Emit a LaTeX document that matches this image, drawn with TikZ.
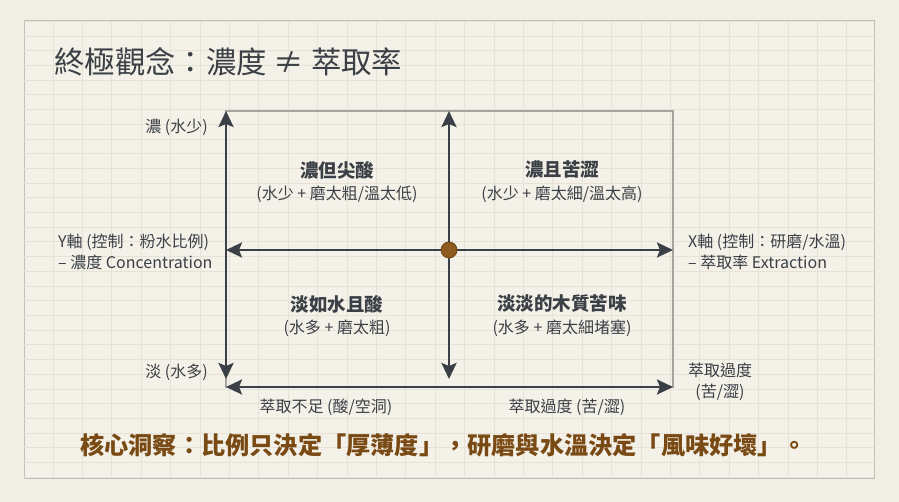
\documentclass[tikz,border=0pt]{standalone}
\usepackage{fontspec}
\setmainfont{Noto Sans CJK TC}
\usetikzlibrary{arrows.meta}
\definecolor{ink}{HTML}{3B4046}
\definecolor{paper}{HTML}{F1EEE4}
\definecolor{panel}{HTML}{F4F1E8}
\definecolor{gridline}{HTML}{E6E2D8}
\definecolor{frame}{HTML}{A5A49E}
\definecolor{coffee}{HTML}{7A4A14}
\definecolor{bean}{HTML}{8E5A1F}
\tikzset{
  axis/.style={line width=2.6pt, draw=ink, {Stealth[length=16pt,width=15pt,inset=3pt]}-{Stealth[length=16pt,width=15pt,inset=3pt]}},
  head/.style={font=\fontsize{18.5}{20}\selectfont\bfseries, text=ink},
  sub/.style={font=\fontsize{16}{18}\selectfont, text=ink},
  side/.style={font=\fontsize{16}{20.5}\selectfont, text=ink, inner sep=0pt}
}
\begin{document}
\begin{tikzpicture}[x=1pt,y=-1pt]
\useasboundingbox (0,0) rectangle (899,502);
\fill[paper] (0,0) rectangle (899,502);
\filldraw[fill=panel, draw=frame!70, line width=1pt] (24,21) rectangle (874,478);
\begin{scope}
\clip (24,21) rectangle (874,478);
\foreach \i in {0,...,28}
  \draw[gridline, line width=0.7pt] ({23.6+29.4*\i},21) -- ++(0,457);
\foreach \j in {0,...,31}
  \draw[gridline, line width=0.6pt] (24,{21.3+14.7*\j}) -- ++(850,0);
\end{scope}

\node[anchor=west, inner sep=0pt, text=ink, font=\fontsize{30.4}{34}\selectfont] (title) at (54,62) {終極觀念：濃度 ≠ 萃取率};

\draw[frame, line width=1.2pt] (226,111) rectangle (673,387);

\coordinate (ytop) at (226,111);
\coordinate (ybot) at (226,379);
\coordinate (mtop) at (449,111);
\coordinate (mbot) at (449,379);
\coordinate (xleft) at (226,250);
\coordinate (xright) at (673,250);
\coordinate (bleft) at (226,387);
\coordinate (bright) at (673,387);

\draw[axis] (ybot) -- (ytop);
\draw[axis] (mbot) -- (mtop);
\draw[axis] (xleft) -- (xright);
\draw[axis] (bleft) -- (bright);
\node[circle, fill=bean, draw=bean!75!black, line width=0.8pt, minimum size=16pt, inner sep=0pt] (core) at (449,250) {};

\node[head] (q1) at (337,170) {濃但尖酸};
\node[sub] (q1s) at (337,194) {(水少 + 磨太粗/溫太低)};
\node[head] (q2) at (562,170) {濃且苦澀};
\node[sub] (q2s) at (562,194) {(水少 + 磨太細/溫太高)};
\node[head] (q3) at (337,304) {淡如水且酸};
\node[sub] (q3s) at (337,328) {(水多 + 磨太粗)};
\node[head] (q4) at (562,304) {淡淡的木質苦味};
\node[sub] (q4s) at (562,328) {(水多 + 磨太細堵塞)};

\node[side, anchor=east] (strong) at (208,127) {濃 (水少)};
\node[side, anchor=east] (weak) at (208,372) {淡 (水多)};
\node[side, anchor=west, align=left] (ylabel) at (58,252) {Y軸 (控制：粉水比例)\\– 濃度 Concentration};
\node[side, anchor=west, align=left] (xlabel) at (688,252) {X軸 (控制：研磨/水溫)\\– 萃取率 Extraction};
\node[side] (under) at (326,407) {萃取不足 (酸/空洞)};
\node[side] (over) at (567,407) {萃取過度 (苦/澀)};
\node[side, align=center] (overend) at (720,382) {萃取過度\\(苦/澀)};

\node[anchor=west, inner sep=0pt, text=coffee, font=\fontsize{24.2}{27}\selectfont\bfseries] (insight) at (80,445) {核心洞察：比例只決定「厚薄度」，研磨與水溫決定「風味好壞」。};
\end{tikzpicture}
\end{document}
